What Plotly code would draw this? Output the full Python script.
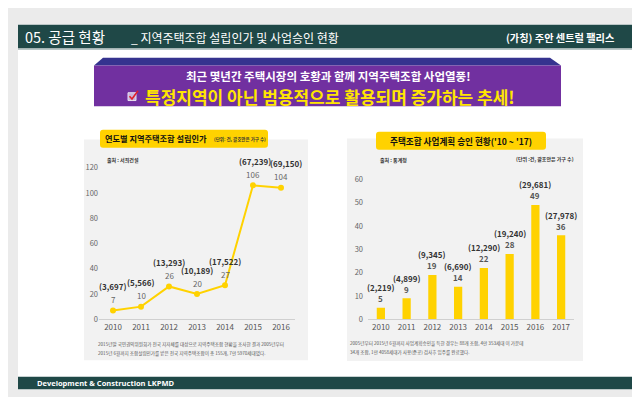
import plotly.graph_objects as go

W, H = 640, 397

# ---------------- data ----------------
years_a = ["2010", "2011", "2012", "2013", "2014", "2015", "2016"]
approvals_a = [7, 10, 26, 20, 27, 106, 104]
households_a = ["(3,697)", "(5,566)", "(13,293)", "(10,189)", "(17,522)", "(67,239)", "(69,150)"]
yticks_a = [0, 20, 40, 60, 80, 100, 120]

years_b = ["2010", "2011", "2012", "2013", "2014", "2015", "2016", "2017"]
approvals_b = [5, 9, 19, 14, 22, 28, 49, 36]
households_b = ["(2,219)", "(4,899)", "(9,345)", "(6,690)", "(12,290)", "(19,240)", "(29,681)", "(27,978)"]
yticks_b = [0, 10, 20, 30, 40, 50, 60]

FONT = "Noto Sans CJK KR"
TEAL = "#1f4847"
GOLD = "#FFD200"

xa = list(range(len(years_a)))
xb = list(range(len(years_b)))


def px(x):
    return x / W


def py(y):
    return 1 - y / H


def rect(x0, y0, x1, y1, fill, line=None, layer="below"):
    return dict(type="rect", xref="paper", yref="paper", x0=px(x0), x1=px(x1),
                y0=py(y1), y1=py(y0), fillcolor=fill,
                line=dict(width=0 if line is None else 1, color=line or fill), layer=layer)


def rrect(x0, y0, x1, y1, r, fill):
    def P(x, y):
        return f"{px(x):.5f},{py(y):.5f}"
    d = (f"M{P(x0 + r, y0)} L{P(x1 - r, y0)} Q{P(x1, y0)} {P(x1, y0 + r)} "
         f"L{P(x1, y1 - r)} Q{P(x1, y1)} {P(x1 - r, y1)} L{P(x0 + r, y1)} "
         f"Q{P(x0, y1)} {P(x0, y1 - r)} L{P(x0, y0 + r)} Q{P(x0, y0)} {P(x0 + r, y0)} Z")
    return dict(type="path", xref="paper", yref="paper", path=d, fillcolor=fill,
                line=dict(width=0), layer="below")


def txt(x, y, s, size, color, bold=False, xanchor="left", family=FONT):
    return dict(x=px(x), y=py(y), xref="paper", yref="paper", text=f"<b>{s}</b>" if bold else s,
                showarrow=False, xanchor=xanchor, yanchor="middle",
                font=dict(size=size, color=color, family=family))


fig = go.Figure()

fig.add_trace(go.Scatter(x=xa, y=approvals_a, mode="lines+markers",
                         line=dict(color=GOLD, width=2), marker=dict(size=6, color=GOLD),
                         xaxis="x", yaxis="y", hoverinfo="skip", showlegend=False, cliponaxis=False))
fig.add_trace(go.Bar(x=xb, y=approvals_b, marker=dict(color=GOLD, line=dict(width=0)),
                     xaxis="x2", yaxis="y2", hoverinfo="skip", showlegend=False))

shapes = [
    rect(10, 11, 629, 386, "#ffffff"),
    rect(10, 11, 629, 35.5, TEAL),
    rect(10, 35.5, 629, 37, "#b9c6c6"),
    rect(10, 373, 629, 386, TEAL),
    # banner
    dict(type="path", xref="paper", yref="paper",
         path=f"M{px(95)},{py(45)} L{px(542)},{py(45)} L{px(553)},{py(53)} L{px(86)},{py(53)} Z",
         fillcolor="#35338f", line=dict(width=0), layer="below"),
    rect(86, 53, 553, 95, "#7130a0"),
    # chart panels
    rect(76, 129, 300, 356, "#f2f2f2"),
    rect(339, 128, 575, 357, "#f2f2f2"),
    rrect(92, 119, 260, 137.5, 3, GOLD),
    rrect(368, 121, 538, 139.5, 3, GOLD),
    # checkbox icon
    dict(type="rect", xref="paper", yref="paper", x0=px(120), x1=px(128), y0=py(89), y1=py(81),
         fillcolor="#c9b3dc", line=dict(width=1, color="#e8e0f0"), layer="above"),
    dict(type="path", xref="paper", yref="paper",
         path=f"M{px(121.5)},{py(84.5)} L{px(124)},{py(87.5)} L{px(130)},{py(79)}",
         line=dict(width=1.6, color="#e0202a"), layer="above"),
]

ann = [
    txt(15, 23.5, "05. 공급 현황", 14.5, "#ffffff"),
    txt(121, 24.5, "_ 지역주택조합 설립인가 및 사업승인 현황", 12, "#ffffff"),
    txt(608, 24, "(가칭) 주안 센트럴 팰리스", 10.2, "#ffffff", bold=True, xanchor="right"),
    txt(320, 64, "최근 몇년간 주택시장의 호황과 함께 지역주택조합 사업열풍!", 11.5, "#ffffff", bold=True, xanchor="center"),
    txt(322, 84.5, "특정지역이 아닌 범용적으로 활용되며 증가하는 추세!", 17, "#ffe600", bold=True, xanchor="center"),
    txt(27, 379.5, "Development &amp; Construction LKPMD", 7.5, "#ffffff", bold=True, family="Open Sans"),
    # left chart texts
    txt(95, 128, "연도별 지역주택조합 설립인가", 8.2, "#111111", bold=True),
    txt(204, 129, "(단위: 건, 괄호안은 가구 수)", 4.5, "#333333", bold=True),
    txt(97, 150, "출처 : 서희건설", 5, "#333333", bold=True),
    txt(88, 340, "2015년말 국민권익위원회가 전국 지자체를 대상으로 지역주택조합 현황을 조사한 결과 2005년부터", 4.6, "#555555"),
    txt(88, 349, "2015년 6월까지 조합설립인가를 받은 전국 지역주택조합이 총 155개, 7만 5970세대였다.", 4.6, "#555555"),
    # right chart texts
    txt(453, 130.5, "주택조합 사업계획 승인 현황('10 ~ '17)", 8.6, "#111111", bold=True, xanchor="center"),
    txt(370, 150, "출처 : 통계청", 5, "#333333", bold=True),
    txt(568, 149, "(단위 :건, 괄호안은 가구 수)", 5, "#333333", bold=True, xanchor="right"),
    txt(340, 339, "2005년부터 2015년 6월까지 사업계획승인을 득한 경우는 88개 조합, 4만 353세대 이 가운데", 4.6, "#555555"),
    txt(340, 348, "34개 조합, 1만 4058세대가 사용(준공) 검사후 입주를 완료했다.", 4.6, "#555555"),
]

for i, v, hh in zip(xa, approvals_a, households_a):
    xs = 5 if i == 6 else (2 if i == 5 else 0)
    ann.append(dict(x=i, y=v, xref="x", yref="y", text=str(v), showarrow=False,
                    yshift=11, yanchor="middle", font=dict(size=8, color="#666666", family=FONT)))
    ann.append(dict(x=i, y=v, xref="x", yref="y", text=f"<b>{hh}</b>", showarrow=False,
                    yshift=24, xshift=xs, yanchor="middle",
                    font=dict(size=8, color="#333333", family=FONT)))

for i, v, hh in zip(xb, approvals_b, households_b):
    ann.append(dict(x=i, y=v, xref="x2", yref="y2", text=f"<b>{v}</b>", showarrow=False,
                    yshift=9, yanchor="middle", font=dict(size=8, color="#555555", family=FONT)))
    ann.append(dict(x=i, y=v, xref="x2", yref="y2", text=f"<b>{hh}</b>", showarrow=False,
                    yshift=20, yanchor="middle", font=dict(size=8, color="#333333", family=FONT)))

axis_common = dict(showgrid=False, zeroline=False, ticks="", fixedrange=True)

fig.update_layout(
    width=W, height=H, margin=dict(l=0, r=0, t=0, b=0),
    paper_bgcolor="#ebebeb", plot_bgcolor="rgba(0,0,0,0)",
    font=dict(family=FONT),
    shapes=shapes, annotations=ann, bargap=0.68, showlegend=False,
    xaxis=dict(domain=[px(91), px(287)], anchor="y", range=[-0.5, len(xa) - 0.5],
               tickvals=xa, ticktext=years_a,
               showline=True, linecolor="#d0d0d0", linewidth=1,
               tickfont=dict(size=8, color="#555555"), **axis_common),
    yaxis=dict(domain=[py(314), py(158)], anchor="x", range=[0, 120], tickvals=yticks_a,
               showline=False, tickfont=dict(size=7.5, color="#666666"), **axis_common),
    xaxis2=dict(domain=[px(360), px(566)], anchor="y2", range=[-0.5, len(xb) - 0.5],
                tickvals=xb, ticktext=years_b,
                showline=True, linecolor="#d0d0d0", linewidth=1,
                tickfont=dict(size=8, color="#555555"), **axis_common),
    yaxis2=dict(domain=[py(314), py(170)], anchor="x2", range=[0, 60], tickvals=yticks_b,
                showline=False, tickfont=dict(size=7.5, color="#666666"),
                ticklabelstandoff=4, **axis_common),
)

fig.write_html("out.html")
